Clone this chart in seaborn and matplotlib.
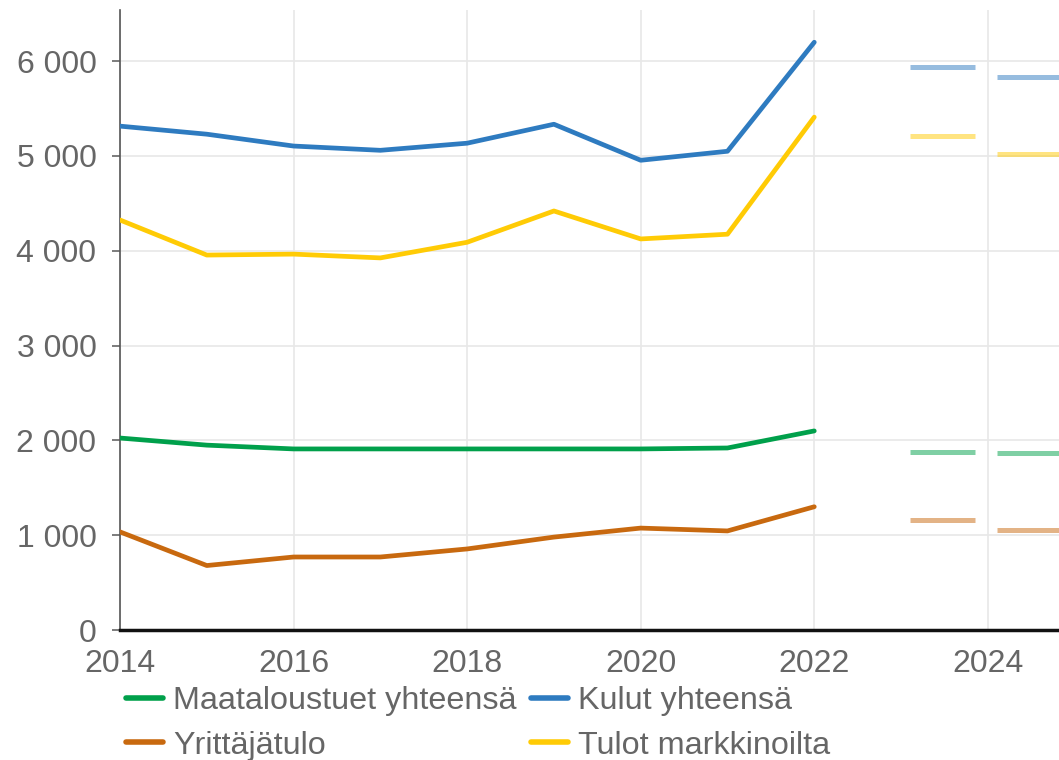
import matplotlib
matplotlib.use("Agg")
import matplotlib.pyplot as plt
import numpy as np
import pandas as pd
import seaborn as sns

# Data
years = [2014, 2015, 2016, 2017, 2018, 2019, 2020, 2021, 2022]
maataloustuet = [2025, 1950, 1910, 1910, 1910, 1910, 1910, 1920, 2100]
kulut = [5315, 5230, 5105, 5060, 5135, 5335, 4955, 5050, 6200]
yrittajatulo = [1035, 680, 770, 770, 855, 980, 1075, 1045, 1300]
tulot = [4325, 3955, 3965, 3925, 4090, 4420, 4125, 4175, 5410]

forecast_years = [2023, 2024]
maataloustuet_fc = [1880, 1865]
kulut_fc = [5935, 5830]
yrittajatulo_fc = [1165, 1060]
tulot_fc = [5210, 5025]

names = ['Maataloustuet yhteensä', 'Kulut yhteensä', 'Yrittäjätulo', 'Tulot markkinoilta']
colors = {'Maataloustuet yhteensä': '#00a04b',
          'Kulut yhteensä': '#2e7bc0',
          'Yrittäjätulo': '#c8690f',
          'Tulot markkinoilta': '#ffcb05'}

df = pd.DataFrame({'Vuosi': years * 4,
                   'Arvo': maataloustuet + kulut + yrittajatulo + tulot,
                   'Sarja': [n for n in names for _ in years]})
fc = {'Maataloustuet yhteensä': maataloustuet_fc, 'Kulut yhteensä': kulut_fc,
      'Yrittäjätulo': yrittajatulo_fc, 'Tulot markkinoilta': tulot_fc}

sns.set_style('white')
plt.rcParams['font.family'] = ['Liberation Sans', 'DejaVu Sans']

fig = plt.figure(figsize=(10.59, 7.6), dpi=100)
ax = fig.add_axes([120 / 1059, 130 / 760, 1 - 120 / 1059, 620 / 760])

sns.lineplot(data=df, x='Vuosi', y='Arvo', hue='Sarja', palette=colors,
             linewidth=3.4, ax=ax, legend=False, zorder=3)

# forecast segments
for n in names:
    ax.hlines(fc[n], np.array(forecast_years) + 0.1, np.array(forecast_years) + 0.85,
              colors=colors[n], alpha=0.5, linewidth=3.6, zorder=3)

ax.set_xlim(2014, 2024.82)
ax.set_ylim(0, 6540)
ax.set_xticks([2014, 2016, 2018, 2020, 2022, 2024])
ax.set_yticks(range(0, 7000, 1000))
ax.set_yticklabels([f'{v:,}'.replace(',', ' ') for v in range(0, 7000, 1000)])
ax.grid(True, color='#e8e8e8', linewidth=1.2, zorder=0)
ax.set_xlabel('')
ax.set_ylabel('')

for s in ['top', 'right']:
    ax.spines[s].set_visible(False)
ax.spines['left'].set_color('#555555')
ax.spines['left'].set_linewidth(1.2)
ax.spines['bottom'].set_color('#111111')
ax.spines['bottom'].set_linewidth(2.5)
ax.spines['bottom'].set_zorder(4)

ax.tick_params(axis='y', colors='#666666', labelsize=23, length=6, width=1.2,
               direction='out', left=True, pad=11)
ax.tick_params(axis='x', colors='#666666', labelsize=23, length=0, pad=14)

# legend below the plot, two columns
order = ['Maataloustuet yhteensä', 'Yrittäjätulo', 'Kulut yhteensä', 'Tulot markkinoilta']
handles = [plt.Line2D([], [], color=colors[n], linewidth=4) for n in order]
leg = fig.legend(handles, order, ncol=2, loc='upper left',
                 bbox_to_anchor=(126 / 1059, 1 - 686 / 760), frameon=False,
                 fontsize=23.3, handlelength=1.15, handletextpad=0.3,
                 columnspacing=0.45, labelspacing=0.45, borderaxespad=0, borderpad=0)
for t in leg.get_texts():
    t.set_color('#666666')

fig.savefig('out.png', dpi=100)
